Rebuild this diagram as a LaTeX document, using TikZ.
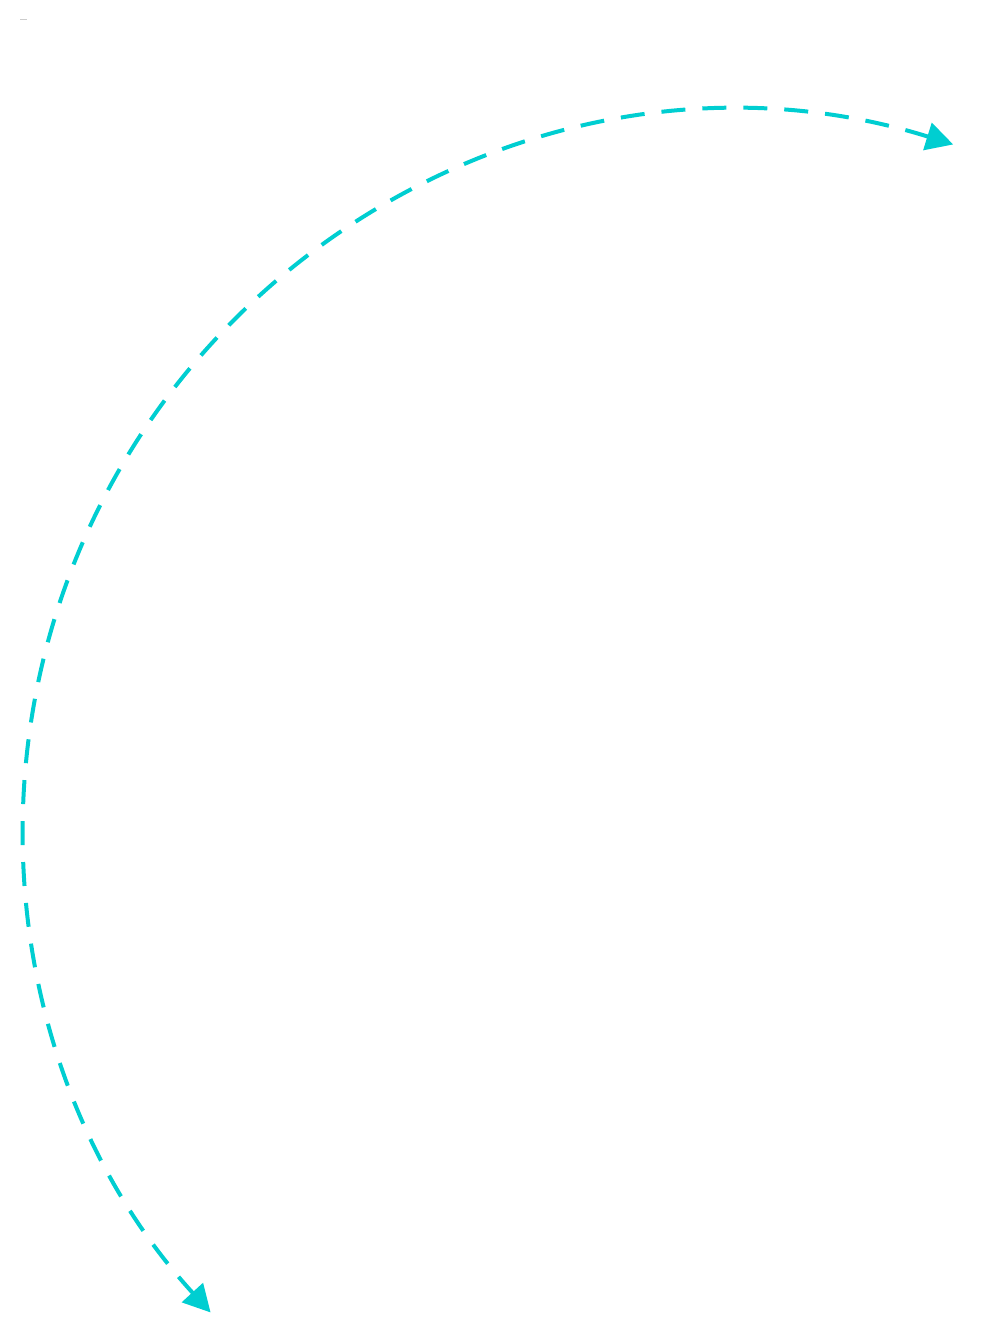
\documentclass[tikz,border=0pt]{standalone}
\usetikzlibrary{arrows.meta}
\definecolor{flowcyan}{RGB}{0,206,209}
\begin{document}
\begin{tikzpicture}[x=1pt,y=-1pt]

			\tikzstyle{flow}=[draw=flowcyan,line width=4pt,
				dash pattern=on 24pt off 17pt,
				{Triangle[length=27pt,width=28pt,fill=flowcyan]}-{Triangle[length=27pt,width=28pt,fill=flowcyan]}]
			\tikzstyle{tick}=[draw=gray!40,line width=1pt]

			\useasboundingbox (0,0) rectangle (1008,1344);

			\coordinate (ctr) at (740,829);
			\coordinate (head) at ([shift={(-72.7:717)}]ctr);
			\coordinate (mark) at (20,19);

			\draw[tick] (mark) -- ++(7,0);

			\draw[flow] (head) arc[start angle=-72.7,end angle=-222.4,radius=717];

			\end{tikzpicture}
\end{document}
